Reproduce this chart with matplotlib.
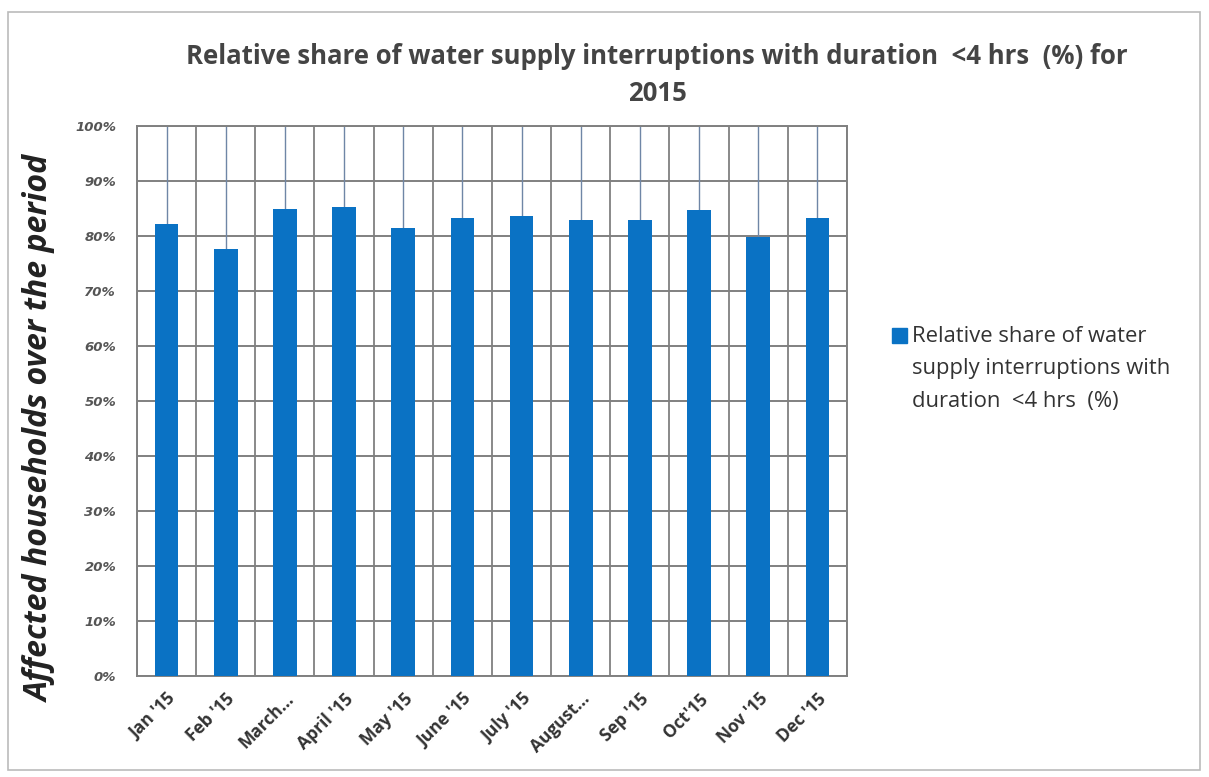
import matplotlib
matplotlib.use("Agg")
import matplotlib.pyplot as plt
from matplotlib.patches import Rectangle
import numpy as np

months = ["Jan '15", "Feb '15", "March...", "April '15", "May '15", "June '15",
          "July '15", "August...", "Sep '15", "Oct'15", "Nov '15", "Dec '15"]
share = [82.2, 77.6, 85.0, 85.3, 81.5, 83.3, 83.7, 83.0, 83.0, 84.8, 79.8, 83.3]
yticks = [0, 10, 20, 30, 40, 50, 60, 70, 80, 90, 100]
series_name = "Relative share of water\nsupply interruptions with\nduration  <4 hrs  (%)"
title = "Relative share of water supply interruptions with duration  <4 hrs  (%) for\n2015"
ylabel = "Affected households over the period"
bar_color = "#0a72c4"

W, H = 1209, 777
fig = plt.figure(figsize=(W / 100, H / 100), dpi=100)
ax = fig.add_axes([137 / W, 1 - 676 / H, (847 - 137) / W, (676 - 126) / H])

x = np.arange(len(months))
ax.set_xlim(-0.5, len(months) - 0.5)
ax.set_ylim(0, 100)

# grid
for v in yticks:
    ax.axhline(v, color="#808080", lw=1.4, zorder=1)
for b in np.arange(-0.5, len(months) + 0.5, 1):
    ax.axvline(b, color="#808080", lw=1.3, zorder=1)
for c in x:
    ax.axvline(c, color="#6f86a6", lw=1.0, zorder=1)

ax.bar(x, share, width=0.4, color=bar_color, zorder=3)

for s in ax.spines.values():
    s.set_color("#808080")
    s.set_linewidth(1.4)

ax.set_yticks(yticks)
ax.set_yticklabels([f"{v}%" for v in yticks], fontstyle="italic",
                   color="#555555", fontsize=9.5, fontweight="bold")
ax.set_xticks(x)
ax.set_xticklabels(months, rotation=45, ha="right", rotation_mode="anchor",
                   fontsize=12.5, fontweight="bold", color="#333333",
                   family="Open Sans")
ax.tick_params(length=0)
ax.tick_params(axis="y", pad=15)
ax.tick_params(axis="x", pad=10)

fig.text(657 / W, 1 - 75 / H, title, ha="center", va="center",
         fontsize=18.5, fontweight="bold", color="#444444",
         family="Open Sans", linespacing=1.45)

fig.text(40 / W, 1 - 428 / H, ylabel, rotation=90, ha="center", va="center",
         fontsize=23, fontweight="bold", fontstyle="italic", color="#222222",
         family="Open Sans")

# legend (marker aligned with first text line, as in the reference)
fig.patches.append(Rectangle((892 / W, 1 - 343 / H), 15 / W, 15 / H,
                             transform=fig.transFigure, color=bar_color))
fig.text(912 / W, 1 - 369 / H, series_name, ha="left", va="center",
         fontsize=15.8, color="#333333", family="Open Sans", linespacing=1.7)

fig.patches.append(Rectangle((8 / W, 1 - 770 / H), (1200 - 8) / W, (770 - 12) / H,
                             transform=fig.transFigure, fill=False,
                             edgecolor="#bbbbbb", lw=1.2))

fig.savefig("out.png", dpi=100)
